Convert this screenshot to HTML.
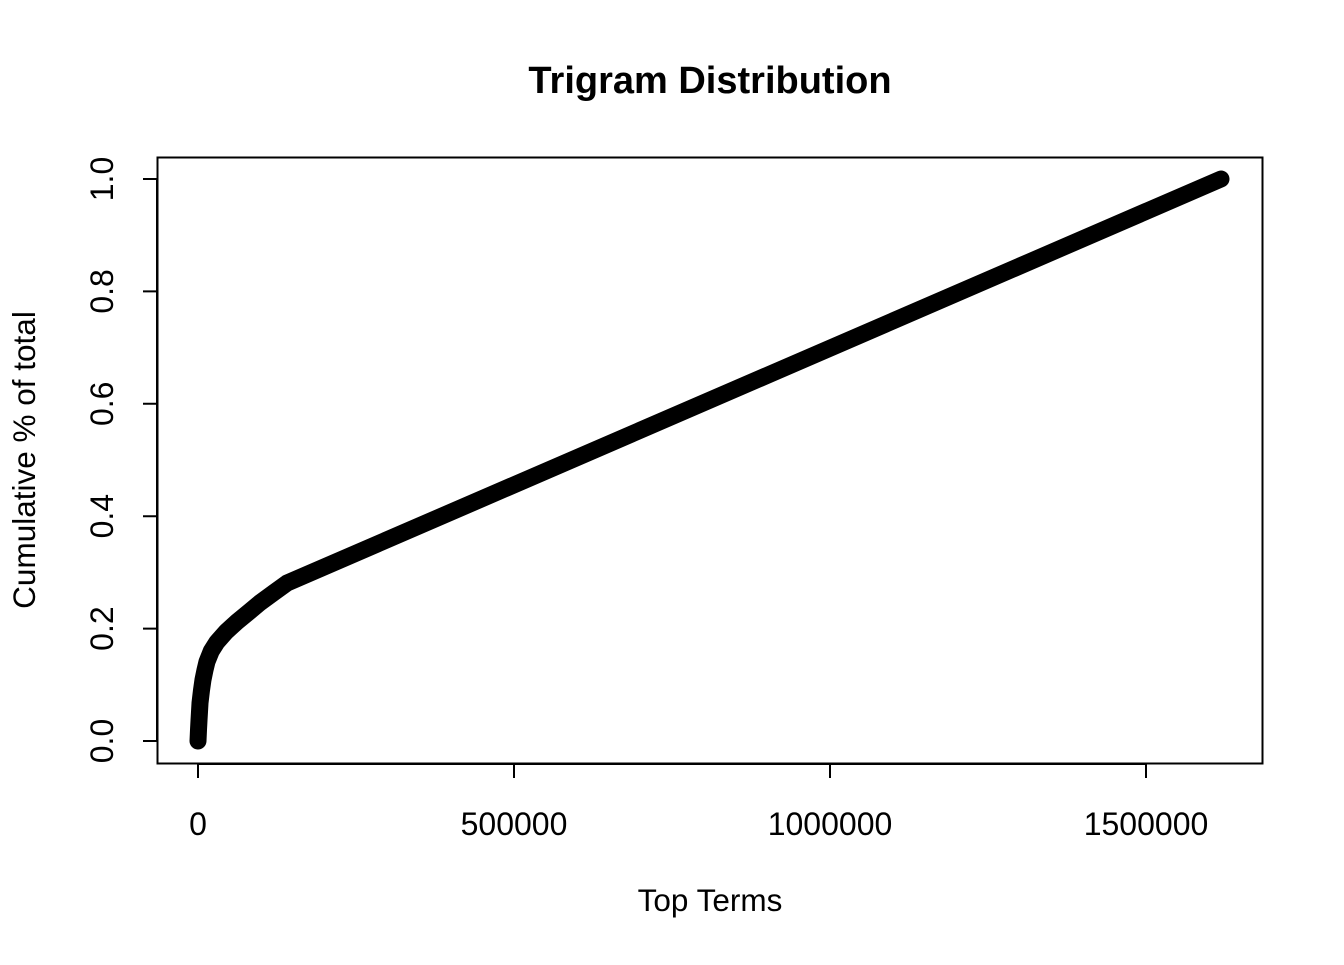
<!DOCTYPE html>
<html><head><meta charset="utf-8"><style>
body{margin:0;background:#fff}
text{font-family:"Liberation Sans",Arial,sans-serif;fill:#000}
</style></head><body>
<svg id="chart" width="1344" height="960" xmlns="http://www.w3.org/2000/svg">
<text x="710" y="93" text-anchor="middle" font-size="38" font-weight="bold">Trigram Distribution</text>
<rect x="157.5" y="157.5" width="1105" height="606" fill="none" stroke="#000" stroke-width="2"/>
<g id="xaxis"></g>
<g id="yaxis"></g>
<path id="curve" fill="none" stroke="#000" stroke-width="17" stroke-linecap="round" stroke-linejoin="round"/>
<text x="710" y="911" text-anchor="middle" font-size="31.5">Top Terms</text>
<text transform="translate(35,460) rotate(-90)" text-anchor="middle" font-size="31.5">Cumulative % of total</text>
</svg>
<script>
const xValues=[0,800,1600,3200,5500,7900,11000,14200,21000,30000,45000,61700,80000,98100,120000,140800,1618700];
const yValues=[0,0.02,0.037,0.068,0.09,0.109,0.126,0.141,0.16,0.176,0.195,0.212,0.229,0.246,0.264,0.281,1.0];
const xTicks=[0,500000,1000000,1500000];
const yTicks=[0,0.2,0.4,0.6,0.8,1.0];
const xTickLabels=["0","500000","1000000","1500000"];
const yTickLabels=["0.0","0.2","0.4","0.6","0.8","1.0"];
const NS="http://www.w3.org/2000/svg";
function sx(v){return 198+v*316/500000;}
function sy(v){return 741-v*562;}
const xa=document.getElementById('xaxis'),ya=document.getElementById('yaxis');
let d='M'+sx(xTicks[0])+' 764H'+sx(xTicks[xTicks.length-1]);
xTicks.forEach((t,i)=>{d+='M'+sx(t)+' 764V778';
const tx=document.createElementNS(NS,'text');


tx.setAttribute('x',sx(t));tx.setAttribute('y',835);tx.setAttribute('text-anchor','middle');tx.setAttribute('font-size','32');tx.textContent=xTickLabels[i];xa.appendChild(tx);});
const xp=document.createElementNS(NS,'path');


xp.setAttribute('d',d);xp.setAttribute('stroke','#000');xp.setAttribute('stroke-width','2');xa.appendChild(xp);
let e='M157 '+sy(yTicks[0])+'V'+sy(yTicks[yTicks.length-1]);
yTicks.forEach((t,i)=>{e+='M157 '+sy(t)+'H143';
const tx=document.createElementNS(NS,'text');


tx.setAttribute('transform','translate(113,'+sy(t)+') rotate(-90)');tx.setAttribute('text-anchor','middle');tx.setAttribute('font-size','32');tx.textContent=yTickLabels[i];ya.appendChild(tx);});
const yp=document.createElementNS(NS,'path');


yp.setAttribute('d',e);yp.setAttribute('stroke','#000');yp.setAttribute('stroke-width','2');ya.appendChild(yp);
document.getElementById('curve').setAttribute('d',xValues.map((x,i)=>(i?'L':'M')+sx(x)+' '+sy(yValues[i])).join(''));
</script>
</body></html>
